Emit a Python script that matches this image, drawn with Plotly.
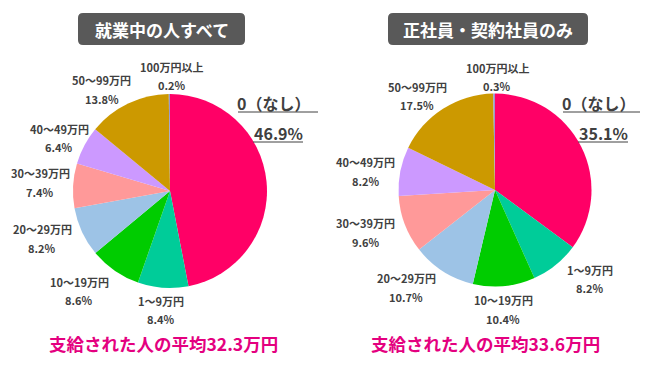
import plotly.graph_objects as go

# page body has an 8px margin; the figure is sized to fill the rest of the window
OFF = 8
W, H = 650 - OFF, 366 - OFF

# ---------------- data ----------------
categories = ["0（なし）", "1～9万円", "10～19万円", "20～29万円",
              "30～39万円", "40～49万円", "50～99万円", "100万円以上"]
all_workers = [46.9, 8.4, 8.6, 8.2, 7.4, 6.4, 13.8, 0.2]
regular_workers = [35.1, 8.2, 10.4, 10.7, 9.6, 8.2, 17.5, 0.3]
titles = ["就業中の人すべて", "正社員・契約社員のみ"]
averages = [32.3, 33.6]

colors = ["#FF0066", "#00CC99", "#00CC00", "#9DC3E6",
          "#FF9999", "#CC99FF", "#CC9900", "#9999CC"]

FONT = "Noto Sans CJK JP"
LABEL_COLOR = "#404040"


def px(x):
    return (x - OFF) / W


def py(y):
    return 1 - (y - OFF) / H


def b(s):
    return f"<b>{s}</b>"


fig = go.Figure()

pie_boxes = [(73, 94, 267, 288), (398.5, 93.5, 591.5, 286.5)]
for vals, (x0, y0, x1, y1) in zip([all_workers, regular_workers], pie_boxes):
    fig.add_trace(go.Pie(
        labels=categories, values=vals, sort=False, direction="clockwise",
        rotation=0, textinfo="none", marker=dict(colors=colors, line=dict(width=0)),
        domain=dict(x=[px(x0), px(x1)], y=[py(y1), py(y0)]),
        showlegend=False, hole=0,
    ))

# label positions (pixel centers): category index -> (x, y of name line, y of pct line)
label_pos = [
    {1: (161, 301, 319), 2: (79, 282, 300), 3: (42, 229, 248), 4: (40, 173, 192),
     5: (59, 129, 147), 6: (102, 80, 99), 7: (172, 67, 85)},
    {1: (590, 270, 288), 2: (503, 300, 319), 3: (406, 278, 297), 4: (366, 223, 242),
     5: (366, 162, 181), 6: (417, 87, 105), 7: (497, 68, 86)},
]
annotations = []
for vals, pos in zip([all_workers, regular_workers], label_pos):
    for i, (x, y1, y2) in pos.items():
        annotations.append(dict(x=px(x), y=py(y1), text=b(categories[i])))
        annotations.append(dict(x=px(x), y=py(y2), text=b(f"{vals[i]}%")))
for a in annotations:
    a.update(xref="paper", yref="paper", xanchor="center", yanchor="middle",
             showarrow=False, font=dict(family=FONT, size=11, color=LABEL_COLOR))

# big "0（なし）" labels
big_pos = [(273, 103, 278, 133, 238, 318), (598, 103, 603, 133, 563, 640)]
shapes = []
for vals, (xn, yn, xp, yp, ul0, ul1) in zip([all_workers, regular_workers], big_pos):
    annotations.append(dict(x=px(xn), y=py(yn), text=b(categories[0]), xref="paper", yref="paper",
                            xanchor="center", yanchor="middle", showarrow=False,
                            font=dict(family=FONT, size=16, color=LABEL_COLOR)))
    annotations.append(dict(x=px(xp), y=py(yp), text=b(f"{vals[0]}%"), xref="paper", yref="paper",
                            xanchor="center", yanchor="middle", showarrow=False,
                            font=dict(family=FONT, size=16, color=LABEL_COLOR)))
    shapes.append(dict(type="line", xref="paper", yref="paper",
                       x0=px(ul0), x1=px(ul1), y0=py(112), y1=py(112),
                       line=dict(color=LABEL_COLOR, width=1)))
    shapes.append(dict(type="line", xref="paper", yref="paper",
                       x0=px(xp - 25), x1=px(xp + 25), y0=py(142), y1=py(142),
                       line=dict(color=LABEL_COLOR, width=1)))


# title boxes (rounded rectangles)
def rounded_rect(x0, y0, x1, y1, r):
    pts = [
        f"M {px(x0 + r)},{py(y0)}",
        f"L {px(x1 - r)},{py(y0)}",
        f"Q {px(x1)},{py(y0)} {px(x1)},{py(y0 + r)}",
        f"L {px(x1)},{py(y1 - r)}",
        f"Q {px(x1)},{py(y1)} {px(x1 - r)},{py(y1)}",
        f"L {px(x0 + r)},{py(y1)}",
        f"Q {px(x0)},{py(y1)} {px(x0)},{py(y1 - r)}",
        f"L {px(x0)},{py(y0 + r)}",
        f"Q {px(x0)},{py(y0)} {px(x0 + r)},{py(y0)}",
        "Z",
    ]
    return " ".join(pts)


title_boxes = [(78, 13, 245, 45), (388, 13, 588, 45)]
for t, (x0, y0, x1, y1) in zip(titles, title_boxes):
    shapes.append(dict(type="path", xref="paper", yref="paper", path=rounded_rect(x0, y0, x1, y1, 5),
                       fillcolor="#595959", line=dict(width=0), layer="below"))
    annotations.append(dict(x=px((x0 + x1) / 2), y=py((y0 + y1) / 2 + 1), text=b(t),
                            xref="paper", yref="paper", xanchor="center", yanchor="middle",
                            showarrow=False, font=dict(family=FONT, size=17, color="white")))

# averages
avg_pos = [(163, 343), (485, 343)]
for v, (x, y) in zip(averages, avg_pos):
    annotations.append(dict(x=px(x), y=py(y), text=b(f"支給された人の平均{v}万円"),
                            xref="paper", yref="paper", xanchor="center", yanchor="middle",
                            showarrow=False, font=dict(family=FONT, size=17.5, color="#E4007F")))

fig.update_layout(
    width=W, height=H, margin=dict(l=0, r=0, t=0, b=0),
    paper_bgcolor="white", plot_bgcolor="white",
    annotations=annotations, shapes=shapes,
)

fig.write_html("out.html")
